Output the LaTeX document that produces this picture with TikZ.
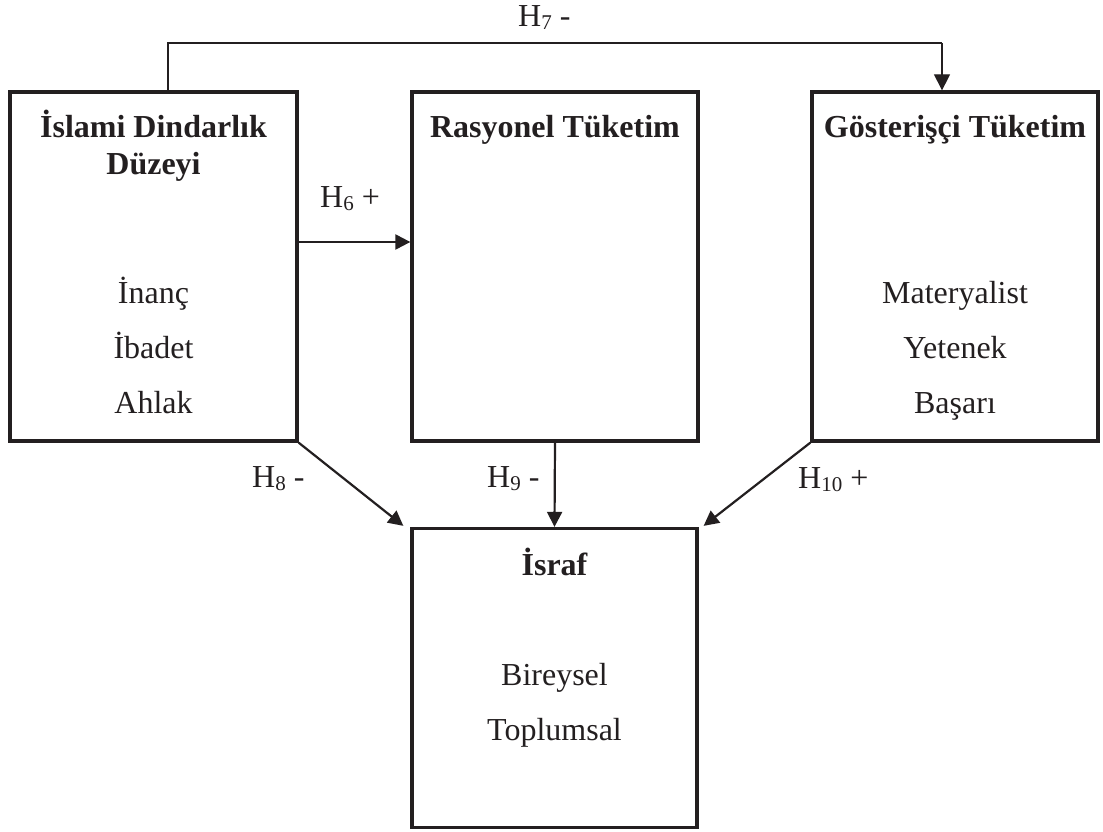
\documentclass[tikz,border=0pt]{standalone}
\usepackage{fontspec}
\setmainfont{Liberation Serif}
\usetikzlibrary{arrows.meta}
\definecolor{ink}{RGB}{35,31,32}
\newcommand{\hsub}[1]{\raisebox{-3pt}{\fontsize{21}{21}\selectfont #1}}
\begin{document}
\begin{tikzpicture}[x=1pt,y=-1pt,
  box/.style={draw=ink, line width=3.3pt, rectangle, inner sep=0pt},
  ttl/.style={anchor=base, text=ink, font=\fontsize{32}{37}\selectfont\bfseries, inner sep=0pt},
  itm/.style={anchor=base, text=ink, font=\fontsize{32}{37}\selectfont, inner sep=0pt},
  lab/.style={anchor=base west, text=ink, font=\fontsize{32}{37}\selectfont, inner sep=0pt},
  conn/.style={draw=ink, line width=2.2pt, -{Triangle[length=15pt,width=15pt]}},
  thinconn/.style={draw=ink, line width=1.3pt}
]
\useasboundingbox (0,0) rectangle (1103,832);
\fill[white] (0,0) rectangle (1103,832);

% boxes
\node[box, minimum width=287pt, minimum height=349pt] (b1) at (153.5,266.5) {};
\node[box, minimum width=286pt, minimum height=349pt] (b2) at (555,266.5) {};
\node[box, minimum width=286pt, minimum height=349pt] (b3) at (955,266.5) {};
\node[box, minimum width=285pt, minimum height=299pt] (b4) at (554.5,678) {};

% box 1 texts
\node[ttl] (t1a) at (153.5,138) {İslami Dindarlık};
\node[ttl] (t1b) at (153.5,175) {Düzeyi};
\node[itm] (i1a) at (153.5,303) {İnanç};
\node[itm] (i1b) at (153.5,358) {İbadet};
\node[itm] (i1c) at (153.5,413) {Ahlak};

% box 2 texts
\node[ttl] (t2) at (555,138) {Rasyonel Tüketim};

% box 3 texts
\node[ttl] (t3) at (955,138) {Gösterişçi Tüketim};
\node[itm] (i3a) at (955,303) {Materyalist};
\node[itm] (i3b) at (955,358) {Yetenek};
\node[itm] (i3c) at (955,413) {Başarı};

% box 4 texts
\node[ttl] (t4) at (554.5,575) {İsraf};
\node[itm] (i4a) at (554.5,685) {Bireysel};
\node[itm] (i4b) at (554.5,740) {Toplumsal};

% connectors
\coordinate (c7a) at (168,43);
\coordinate (c7b) at (942,43);
\draw[thinconn] (b1.north -| c7a) -- (c7a) -- (c7b);
\draw[thinconn, -{Triangle[length=16pt,width=16pt]}] (c7b) -- (b3.north -| c7b);

\coordinate (c6) at (0,242);
\draw[conn] (b1.east |- c6) -- (b2.west |- c6);

\draw[conn] (b1.south east) -- ([shift={(-7pt,1pt)}]b4.north west);
\draw[conn] (b2.south) -- (b4.north);
\draw[conn] (b3.south west) -- ([shift={(5pt,1pt)}]b4.north east);

% labels
\node[lab] (l7) at (518,27) {H\hsub{7} -};
\node[lab] (l6) at (320,207) {H\hsub{6} +};
\node[lab] (l8) at (252,487) {H\hsub{8} -};
\node[lab] (l9) at (487,487) {H\hsub{9} -};
\node[lab] (l10) at (798,488) {H\hsub{10} +};
\end{tikzpicture}
\end{document}
